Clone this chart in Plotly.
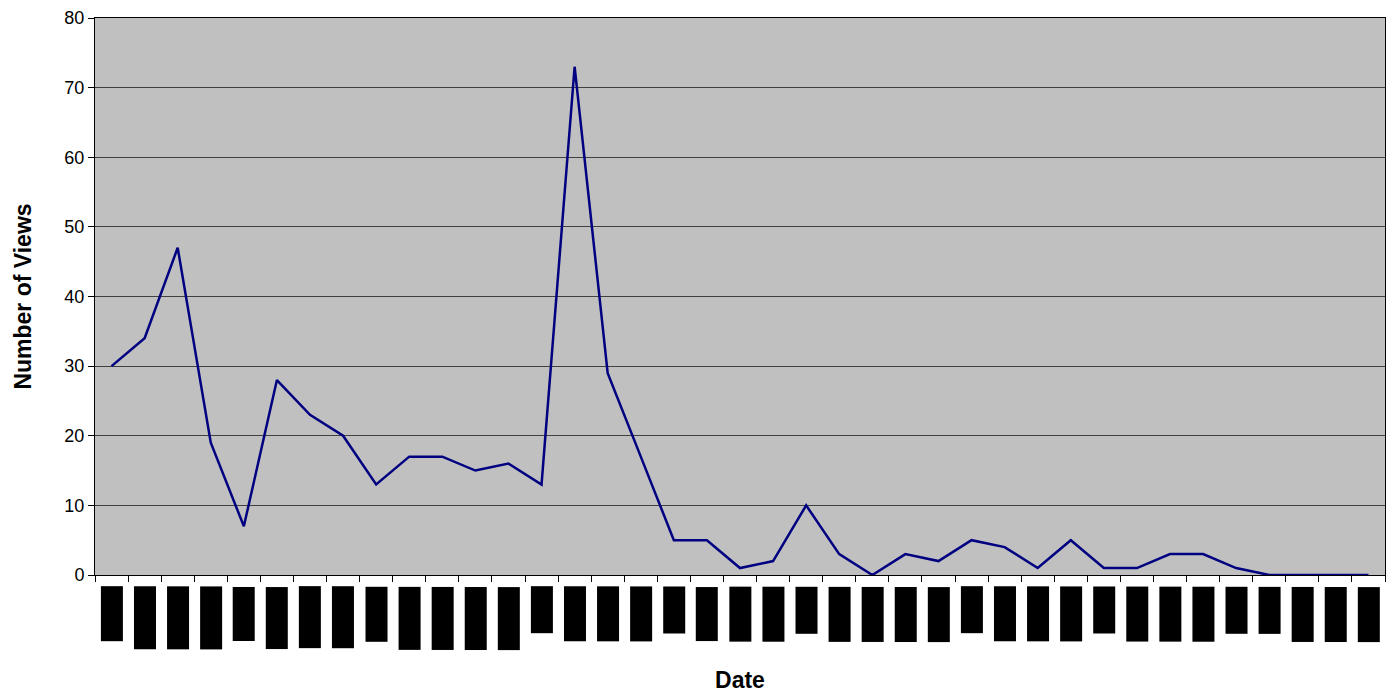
import plotly.graph_objects as go
import datetime as dt

views = [30, 34, 47, 19, 7, 28, 23, 20, 13, 17, 17, 15, 16, 13, 73, 29, 17, 5, 5, 1,
         2, 10, 3, 0, 3, 2, 5, 4, 1, 5, 1, 1, 3, 3, 1, 0, 0, 0, 0]
start = dt.date(2007, 10, 8)
dates = [(start + dt.timedelta(days=7 * i)) for i in range(len(views))]
date_labels = [f"{d.month}/{d.day}/{d.strftime('%y')}" for d in dates]
y_ticks = [0, 10, 20, 30, 40, 50, 60, 70, 80]

fig = go.Figure()
fig.add_trace(go.Scatter(x=date_labels, y=views, mode="lines",
                         line=dict(color="#000080", width=2.5), showlegend=False))

for lab in date_labels:
    fig.add_annotation(x=lab, y=-0.02, xref="x", yref="paper", text=lab,
                       textangle=-90, showarrow=False, yanchor="top", xanchor="center",
                       font=dict(family="Liberation Sans, Arial", size=15, color="black"),
                       bgcolor="black", borderpad=2)

fig.update_layout(
    width=1396, height=700,
    margin=dict(l=87, r=19, t=10, b=133),
    paper_bgcolor="white", plot_bgcolor="#C0C0C0",
    font=dict(family="Liberation Sans, Arial", size=18, color="black"),
    xaxis=dict(type="category", range=[-0.5, len(views) - 0.5], showticklabels=False,
               tickson="boundaries", ticks="outside", ticklen=6, tickcolor="black",
               showgrid=False, showline=True, linecolor="black", linewidth=1, mirror=True,
               automargin=False,
               title=dict(text="<b>Date</b>", font=dict(size=23), standoff=96)),
    yaxis=dict(range=[0, 80], tickvals=y_ticks, ticks="outside", ticklen=6, tickcolor="black",
               showgrid=True, gridcolor="#404040", gridwidth=1, zeroline=False,
               showline=True, linecolor="black", linewidth=1, mirror=True,
               automargin=False,
               title=dict(text="<b>Number of Views</b>", font=dict(size=23), standoff=26)),
)

fig.write_html("out.html")
